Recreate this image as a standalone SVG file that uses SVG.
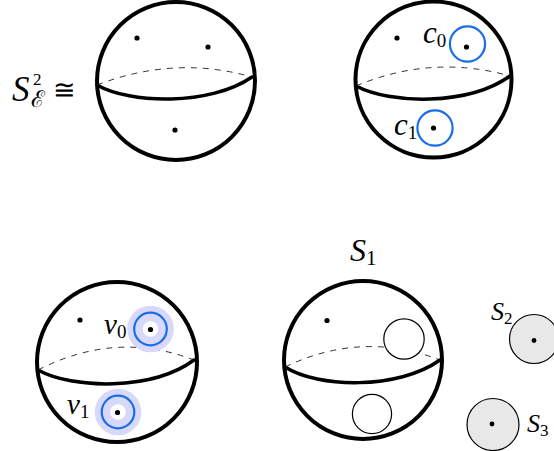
<svg xmlns="http://www.w3.org/2000/svg" width="554" height="451" viewBox="0 0 554 451">
<style>
.outline{fill:#fff;stroke:#000;stroke-width:4}
.front{fill:none;stroke:#000;stroke-width:3.5;stroke-linecap:round}
.back{fill:none;stroke:#333;stroke-width:1;stroke-dasharray:6,6}
.dot{fill:#000}
.blue{fill:none;stroke:#1a6ee8;stroke-width:2.2}
.halo{fill:none;stroke:#d8d8fb;stroke-width:15.5}
.thin{fill:#fff;stroke:#000;stroke-width:1.2}
.disk{fill:#e8e8e8;stroke:#000;stroke-width:1.2}
text{font-family:'Liberation Serif','DejaVu Serif',serif;fill:#000}
.it{font-style:italic}
.sub{font-style:normal}
</style>
<g id="label-S2E">
<text class="it" x="12" y="101" font-size="35">S</text>
<text x="33" y="85" font-size="17">2</text>
<text x="31" y="107" font-size="23" font-family="'DejaVu Serif','DejaVu Sans',serif">ℰ</text>
<text x="53" y="99" font-size="27" font-family="'DejaVu Sans',sans-serif">≅</text>
</g>
<g id="sphere1">
<circle class="outline" cx="176" cy="81" r="79"/>
<path class="back" d="M97,85 Q175,55 252,77"/>
<path class="front" d="M97,85 C130,104 210,106 252,77"/>
<circle class="dot" cx="137" cy="38" r="2.6"/>
<circle class="dot" cx="208" cy="47" r="2.6"/>
<circle class="dot" cx="175" cy="130" r="2.6"/>
</g>
<g id="sphere2">
<circle class="outline" cx="433.5" cy="79.5" r="78"/>
<path class="back" d="M356,86 Q432,54 510,76"/>
<path class="front" d="M356,86 C390,104 468,106 510,76"/>
<circle class="dot" cx="397" cy="38" r="2.6"/>
<circle class="blue" cx="467.5" cy="44" r="17.6"/>
<circle class="dot" cx="466.5" cy="47" r="2.6"/>
<circle class="blue" cx="435" cy="128" r="17.6"/>
<circle class="dot" cx="433.5" cy="128" r="2.6"/>
<text class="it" x="423" y="43" font-size="31">c<tspan class="sub" font-size="19" dy="4">0</tspan></text>
<text class="it" x="394" y="135" font-size="31">c<tspan class="sub" font-size="19" dy="4">1</tspan></text>
</g>
<g id="sphere3">
<circle class="outline" cx="117" cy="362" r="80"/>
<path class="back" d="M38,370 Q116,330 194,360"/>
<path class="front" d="M38,370 C72,389 152,391 194,360"/>
<circle class="dot" cx="80" cy="320" r="2.6"/>
<circle class="halo" cx="150.5" cy="329" r="15.5"/>
<circle class="blue" cx="150.5" cy="329" r="16.3"/>
<circle class="dot" cx="150.5" cy="329.5" r="2.6"/>
<circle class="halo" cx="118" cy="412" r="15.5"/>
<circle class="blue" cx="118" cy="412" r="16.3"/>
<circle class="dot" cx="117.5" cy="412.5" r="2.6"/>
<text class="it" x="104" y="334" font-size="29" font-family="'DejaVu Serif',serif">ν<tspan class="sub" font-family="'Liberation Serif',serif" font-size="19" dy="4">0</tspan></text>
<text class="it" x="67" y="414" font-size="29" font-family="'DejaVu Serif',serif">ν<tspan class="sub" font-family="'Liberation Serif',serif" font-size="19" dy="4">1</tspan></text>
</g>
<g id="sphere4">
<circle class="outline" cx="363" cy="360" r="79"/>
<path class="back" d="M285,367 Q362,330 440,360"/>
<path class="front" d="M285,367 C318,388 398,390 440,360"/>
<circle class="dot" cx="327" cy="320.5" r="2.6"/>
<circle class="thin" cx="404" cy="339" r="20.2"/>
<circle class="thin" cx="372" cy="414" r="19.6"/>
<text class="it" x="350" y="261" font-size="32">S<tspan class="sub" font-size="21" dy="4">1</tspan></text>
</g>
<g id="disk-S2">
<circle class="disk" cx="534" cy="339" r="24.5"/>
<circle class="dot" cx="534" cy="340.5" r="2.4"/>
<text class="it" x="491" y="320" font-size="26">S<tspan class="sub" font-size="17" dy="4">2</tspan></text>
</g>
<g id="disk-S3">
<circle class="disk" cx="493" cy="424.5" r="26"/>
<circle class="dot" cx="492" cy="424" r="2.4"/>
<text class="it" x="527" y="432" font-size="26">S<tspan class="sub" font-size="17" dy="4">3</tspan></text>
</g>
</svg>
